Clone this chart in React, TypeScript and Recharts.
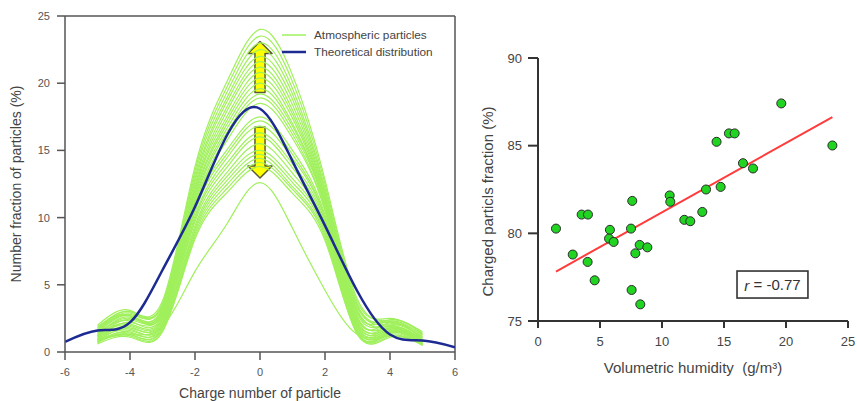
import React from "react";
import {
  LineChart,
  Line,
  XAxis,
  YAxis,
  ReferenceLine,
  ReferenceArea,
  Legend,
  ScatterChart,
  Scatter,
  ZAxis,
} from "recharts";

// left panel: charge distributions
const chargeNumbers = [-5, -4, -3, -2, -1, 0, 1, 2, 3, 4, 5];
const theoryCharge = [-6, -5, -4, -3, -2, -1, 0, 1, 2, 3, 4, 5, 6];
const theoryFraction = [0.75, 1.6, 2.2, 6.1, 10.8, 16.2, 18.1, 14.2, 9.4, 4.5, 1.3, 0.85, 0.35];
const atmosphericCurves = [
  [1.8, 3.0, 3.8, 13.8, 20.2, 24.0, 20.6, 12.8, 3.9, 2.3, 1.3],
  [1.6, 2.9, 3.6, 13.5, 19.8, 23.5, 20.1, 12.5, 3.7, 2.5, 1.4],
  [2.0, 3.1, 3.5, 13.2, 19.4, 23.0, 19.6, 12.2, 3.5, 2.2, 1.1],
  [1.4, 2.7, 3.3, 12.9, 19.0, 22.5, 19.2, 12.0, 3.3, 2.4, 1.5],
  [1.7, 3.0, 3.5, 12.7, 18.7, 22.0, 18.8, 11.8, 3.4, 2.0, 0.9],
  [1.2, 2.6, 3.1, 12.4, 18.3, 21.6, 18.4, 11.6, 3.0, 2.3, 1.2],
  [1.5, 2.8, 3.4, 12.2, 18.0, 21.2, 18.0, 11.5, 3.1, 1.9, 0.8],
  [1.9, 2.7, 2.9, 12.0, 17.6, 20.8, 17.7, 11.3, 2.8, 2.1, 1.0],
  [1.3, 2.5, 3.2, 11.8, 17.3, 20.4, 17.4, 11.2, 2.9, 2.4, 1.3],
  [1.6, 2.7, 2.8, 11.6, 17.0, 20.0, 17.0, 11.0, 2.6, 1.8, 0.7],
  [1.1, 2.4, 3.0, 11.4, 16.7, 19.6, 16.8, 10.9, 2.5, 2.0, 1.1],
  [1.4, 2.3, 2.7, 11.2, 16.4, 19.2, 16.5, 10.8, 2.4, 2.2, 0.9],
  [1.0, 2.2, 2.9, 11.0, 16.1, 18.9, 16.2, 10.6, 2.3, 1.7, 0.6],
  [1.3, 2.1, 2.6, 10.8, 15.8, 18.5, 15.9, 10.5, 2.2, 1.9, 0.8],
  [1.2, 2.0, 2.5, 10.6, 15.1, 17.5, 15.0, 10.2, 2.1, 1.6, 0.7],
  [0.9, 1.9, 2.3, 10.4, 14.8, 17.2, 14.7, 10.0, 2.0, 1.8, 0.9],
  [1.1, 1.8, 2.4, 10.1, 14.5, 16.8, 14.4, 9.9, 1.9, 1.5, 0.6],
  [0.8, 1.7, 2.1, 9.9, 14.1, 16.3, 14.0, 9.7, 1.8, 1.7, 0.8],
  [1.0, 1.6, 2.2, 9.7, 13.8, 16.0, 13.7, 9.5, 1.7, 1.4, 0.6],
  [0.7, 1.5, 1.9, 9.4, 13.4, 15.5, 13.3, 9.3, 1.6, 1.6, 0.7],
  [0.9, 1.4, 2.0, 9.2, 13.1, 15.0, 12.9, 9.1, 1.5, 1.3, 0.5],
  [0.8, 1.3, 1.8, 9.0, 12.8, 14.7, 12.6, 8.9, 1.4, 1.5, 0.6],
  [0.7, 1.3, 1.7, 8.8, 12.5, 14.4, 12.3, 8.7, 1.4, 1.2, 0.5],
  [0.8, 1.2, 1.6, 8.6, 12.2, 14.1, 12.1, 8.5, 1.3, 1.4, 0.6],
  [0.6, 1.1, 1.5, 8.4, 11.9, 13.8, 11.8, 8.3, 1.3, 1.1, 0.5],
  [0.9, 1.3, 1.9, 6.0, 9.6, 12.6, 9.2, 4.6, 1.3, 1.2, 0.8],
];
const chargeTicks = [-6, -4, -2, 0, 2, 4, 6];
const fractionTicks = [0, 5, 10, 15, 20, 25];
// yellow arrows (data units)
const arrowUp = { x1: -0.37, x2: 0.37, y1: 19.3, y2: 23.1 };
const arrowDown = { x1: -0.37, x2: 0.37, y1: 12.95, y2: 16.75 };

// right panel: charged fraction vs humidity
const humidity = [
  1.45, 2.8, 3.52, 4.03, 4.0, 4.57, 5.8, 5.73, 6.1, 7.5, 7.6, 7.85, 7.55, 8.25, 8.2,
  8.82, 10.62, 10.67, 11.8, 12.28, 13.25, 13.55, 14.4, 14.73, 15.4, 15.86, 16.53, 17.34,
  19.62, 23.74,
];
const chargedFraction = [
  80.27, 78.79, 81.07, 81.07, 78.37, 77.32, 80.2, 79.7, 79.51, 80.27, 81.85, 78.86, 76.77,
  75.95, 79.34, 79.2, 82.16, 81.8, 80.77, 80.69, 81.22, 82.5, 85.22, 82.65, 85.7, 85.7,
  84.0, 83.7, 87.41, 85.01,
];
const fitHumidity = [1.45, 23.74];
const fitFraction = [77.82, 86.63];
const humidityTicks = [0, 5, 10, 15, 20, 25];
const chargedTicks = [75, 80, 85, 90];
const rBox = { x1: 16.05, x2: 21.77, y1: 76.31, y2: 77.85 };

const FONT = "'Liberation Sans', Arial, sans-serif";

function YTitle({ viewBox, text, dx, dy = 0, size, color }: any) {
  const cx = viewBox.x + dx;
  const cy = viewBox.y + viewBox.height / 2 + dy;
  return (
    <text
      x={cx}
      y={cy}
      transform={`rotate(-90 ${cx} ${cy})`}
      textAnchor="middle"
      dominantBaseline="central"
      fontSize={size}
      fill={color}
      fontFamily={FONT}
    >
      {text}
    </text>
  );
}

function XTitle({ viewBox, text, dy, size, color }: any) {
  return (
    <text
      x={viewBox.x + viewBox.width / 2}
      y={viewBox.y + dy}
      textAnchor="middle"
      dominantBaseline="central"
      fontSize={size}
      fill={color}
      fontFamily={FONT}
    >
      {text}
    </text>
  );
}

function Arrow({ x, y, width, height, dir }: any) {
  const cx = x + width / 2;
  const sw = width * 0.21;
  const head = 12;
  let pts: number[][];
  if (dir === "up") {
    pts = [
      [cx, y],
      [x + width, y + head],
      [cx + sw, y + head],
      [cx + sw, y + height],
      [cx - sw, y + height],
      [cx - sw, y + head],
      [x, y + head],
    ];
  } else {
    const b = y + height;
    pts = [
      [cx, b],
      [x + width, b - head],
      [cx + sw, b - head],
      [cx + sw, y],
      [cx - sw, y],
      [cx - sw, b - head],
      [x, b - head],
    ];
  }
  return (
    <polygon
      points={pts.map((p) => p.join(",")).join(" ")}
      fill="#ffff00"
      stroke="#5a5a3a"
      strokeWidth={1.5}
      strokeLinejoin="round"
    />
  );
}

function RBoxShape({ x, y, width, height }: any) {
  return (
    <g>
      <rect x={x} y={y} width={width} height={height} fill="#fff" stroke="#333" strokeWidth={1.6} />
      <text
        x={x + width / 2}
        y={y + height / 2}
        textAnchor="middle"
        dominantBaseline="central"
        fontSize={15}
        fill="#333"
        fontFamily={FONT}
      >
        <tspan fontStyle="italic">r</tspan>
        {" = -0.77"}
      </text>
    </g>
  );
}

function LegendBox({ payload }: any) {
  const seen = new Set<string>();
  const items = (payload || []).filter((p: any) => {
    if (p.type === "none" || seen.has(p.value)) return false;
    seen.add(p.value);
    return true;
  });
  return (
    <div style={{ fontFamily: FONT, fontSize: 11.8, color: "#444" }}>
      {items.map((p: any) => (
        <div key={p.value} style={{ display: "flex", alignItems: "center", height: 17 }}>
          <svg width={30} height={6} style={{ marginRight: 2 }}>
            <line x1={0} y1={3} x2={24} y2={3} stroke={p.color} strokeWidth={p.value === "Theoretical distribution" ? 2.5 : 1.5} />
          </svg>
          <span>{p.value}</span>
        </div>
      ))}
    </div>
  );
}

export default function App() {
  const curves = atmosphericCurves.map((vals) => chargeNumbers.map((x, i) => ({ x, y: vals[i] })));
  const theory = theoryCharge.map((x, i) => ({ x, y: theoryFraction[i] }));
  const points = humidity.map((x, i) => ({ x, y: chargedFraction[i] }));
  const fit = fitHumidity.map((x, i) => ({ x, y: fitFraction[i] }));

  return (
    <div style={{ position: "absolute", left: 0, top: 0, width: 857, height: 401, background: "#fff", fontFamily: FONT }}>
      <div style={{ position: "absolute", left: 0, top: 0 }}>
        <LineChart width={460} height={401} margin={{ top: 16, right: 5, bottom: 4, left: 0 }}>
          <XAxis
            type="number"
            dataKey="x"
            domain={[-6, 6]}
            ticks={chargeTicks}
            allowDataOverflow
            height={45}
            tickSize={8}
            tickMargin={8}
            axisLine={{ stroke: "#555", strokeWidth: 1.5 }}
            tickLine={{ stroke: "#555", strokeWidth: 1.5 }}
            tick={{ fontSize: 11, fill: "#555" }}
            label={<XTitle text="Charge number of particle" dy={41} size={14} color="#444" />}
          />
          <YAxis
            type="number"
            domain={[0, 25]}
            ticks={fractionTicks}
            width={65}
            tickSize={8}
            tickMargin={7}
            axisLine={{ stroke: "#555", strokeWidth: 1.5 }}
            tickLine={{ stroke: "#555", strokeWidth: 1.5 }}
            tick={{ fontSize: 11, fill: "#555" }}
            label={<YTitle text="Number fraction of particles (%)" dx={16} size={14} color="#444" />}
          />
          <ReferenceLine y={25} stroke="#555" strokeWidth={1.5} />
          <ReferenceLine x={6} stroke="#555" strokeWidth={1.5} />
          {curves.map((data, i) => (
            <Line
              key={i}
              data={data}
              dataKey="y"
              type="natural"
              stroke="#a0f05c"
              strokeWidth={1.2}
              dot={false}
              isAnimationActive={false}
              name="Atmospheric particles"
              legendType={i === 0 ? "line" : "none"}
            />
          ))}
          <Line
            data={theory}
            dataKey="y"
            type="natural"
            stroke="#1c2a92"
            strokeWidth={2.5}
            dot={false}
            isAnimationActive={false}
            name="Theoretical distribution"
          />
          <ReferenceArea {...arrowUp} shape={(p: any) => <Arrow {...p} dir="up" />} />
          <ReferenceArea {...arrowDown} shape={(p: any) => <Arrow {...p} dir="down" />} />
          <Legend
            layout="vertical"
            align="center"
            verticalAlign="middle"
            content={<LegendBox />}
            wrapperStyle={{ left: 282, top: 26, width: 175 }}
          />
        </LineChart>
      </div>

      <div style={{ position: "absolute", left: 460, top: 0 }}>
        <ScatterChart width={397} height={401} margin={{ top: 58, right: 9, bottom: 40, left: 0 }}>
          <XAxis
            type="number"
            dataKey="x"
            domain={[0, 25]}
            ticks={humidityTicks}
            height={40}
            tickSize={7}
            tickMargin={9}
            axisLine={{ stroke: "#333", strokeWidth: 2 }}
            tickLine={{ stroke: "#333", strokeWidth: 2 }}
            tick={{ fontSize: 13, fill: "#444" }}
            label={<XTitle text={"Volumetric humidity\u00a0 (g/m\u00b3)"} dy={46} size={15} color="#444" />}
          />
          <YAxis
            type="number"
            dataKey="y"
            domain={[75, 90]}
            ticks={chargedTicks}
            width={78}
            tickSize={10}
            tickMargin={6}
            axisLine={{ stroke: "#333", strokeWidth: 2 }}
            tickLine={{ stroke: "#333", strokeWidth: 2 }}
            tick={{ fontSize: 13, fill: "#444" }}
            label={<YTitle text="Charged particls fraction (%)" dx={27} dy={12} size={15} color="#444" />}
          />
          <ZAxis range={[50, 50]} />
          <Scatter
            data={fit}
            line={{ stroke: "#ff3b3b", strokeWidth: 2 }}
            shape={() => <g />}
            isAnimationActive={false}
            legendType="none"
          />
          <Scatter data={points} fill="#22d422" stroke="#2a2a2a" strokeWidth={1} isAnimationActive={false} />
          <ReferenceArea {...rBox} shape={(p: any) => <RBoxShape {...p} />} />
        </ScatterChart>
      </div>
    </div>
  );
}
